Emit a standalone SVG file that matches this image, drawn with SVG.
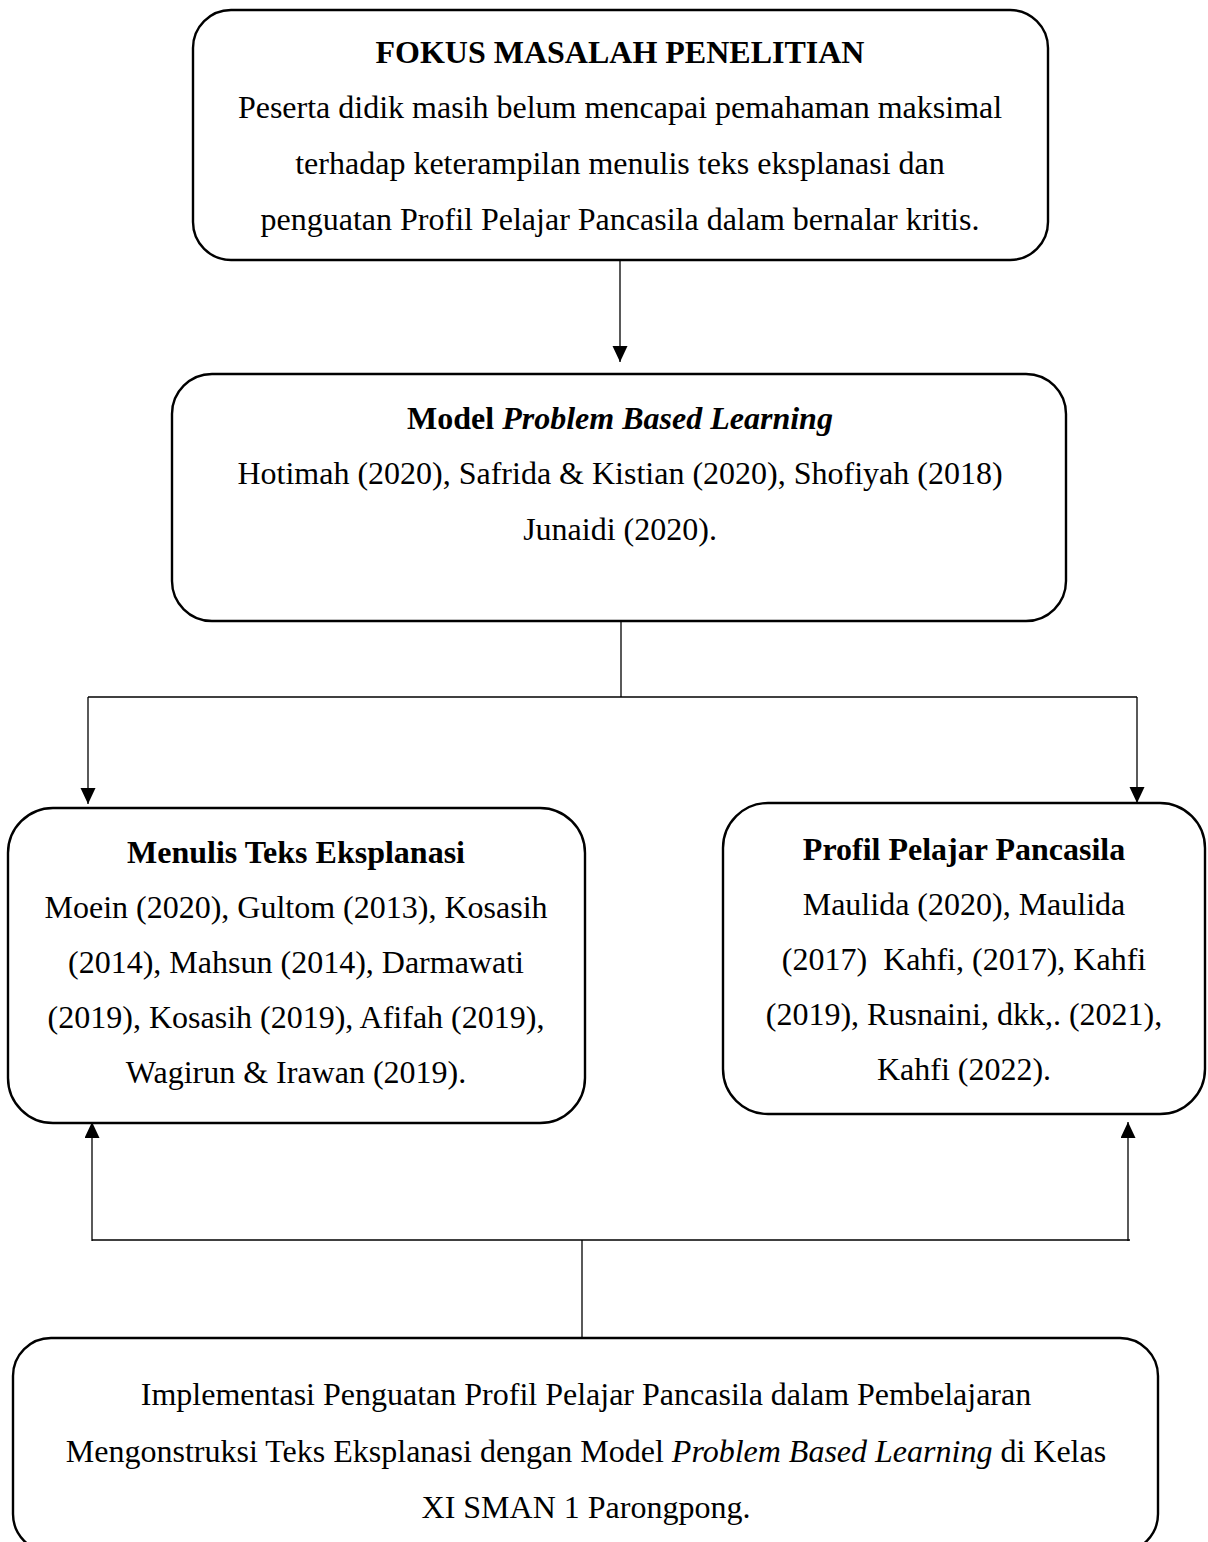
<svg xmlns="http://www.w3.org/2000/svg" width="1208" height="1542" viewBox="0 0 1208 1542">
<style>
.box{fill:#fff;stroke:#000;stroke-width:2.4}
.t{font-family:"Liberation Serif","Times New Roman",serif;font-size:32px;fill:#000;text-anchor:middle}
.b{font-weight:bold}
.i{font-style:italic}
.ln{fill:none;stroke:#000;stroke-width:1.3}
</style>
<defs>
<marker id="ah" markerUnits="userSpaceOnUse" markerWidth="16" markerHeight="16" refX="16" refY="7.5" orient="auto">
<path d="M0,0 L16,7.5 L0,15 z" fill="#000"/>
</marker>
</defs>
<rect width="1208" height="1542" fill="#fff"/>
<g id="connectors">
<path class="ln" d="M620,260 V362" marker-end="url(#ah)"/>
<path class="ln" d="M621,621 V697"/>
<path class="ln" d="M88,697 H1137"/>
<path class="ln" d="M88,697 V804" marker-end="url(#ah)"/>
<path class="ln" d="M1137,697 V803" marker-end="url(#ah)"/>
<path class="ln" d="M92,1241 V1122" marker-end="url(#ah)"/>
<path class="ln" d="M1128,1241 V1122" marker-end="url(#ah)"/>
<path class="ln" d="M92,1240 H1130"/>
<path class="ln" d="M582,1240 V1338"/>
</g>
<g id="fokus">
<rect class="box" x="193" y="10" width="855" height="250" rx="38"/>
<text class="t b" x="620" y="63">FOKUS MASALAH PENELITIAN</text>
<text class="t" x="620" y="118">Peserta didik masih belum mencapai pemahaman maksimal</text>
<text class="t" x="620" y="174">terhadap keterampilan menulis teks eksplanasi dan</text>
<text class="t" x="620" y="230">penguatan Profil Pelajar Pancasila dalam bernalar kritis.</text>
</g>
<g id="pbl">
<rect class="box" x="172" y="374" width="894" height="247" rx="40"/>
<text class="t" x="620" y="429"><tspan class="b">Model </tspan><tspan class="b i">Problem Based Learning</tspan></text>
<text class="t" x="620" y="484">Hotimah (2020), Safrida &amp; Kistian (2020), Shofiyah (2018)</text>
<text class="t" x="620" y="540">Junaidi (2020).</text>
</g>
<g id="menulis">
<rect class="box" x="8" y="808" width="577" height="315" rx="45"/>
<text class="t b" x="296" y="863">Menulis Teks Eksplanasi</text>
<text class="t" x="296" y="918">Moein (2020), Gultom (2013), Kosasih</text>
<text class="t" x="296" y="973">(2014), Mahsun (2014), Darmawati</text>
<text class="t" x="296" y="1028">(2019), Kosasih (2019), Afifah (2019),</text>
<text class="t" x="296" y="1083">Wagirun &amp; Irawan (2019).</text>
</g>
<g id="profil">
<rect class="box" x="723" y="803" width="482" height="311" rx="45"/>
<text class="t b" x="964" y="860">Profil Pelajar Pancasila</text>
<text class="t" x="964" y="915">Maulida (2020), Maulida</text>
<text class="t" x="964" y="970" xml:space="preserve">(2017)  Kahfi, (2017), Kahfi</text>
<text class="t" x="964" y="1025">(2019), Rusnaini, dkk,. (2021),</text>
<text class="t" x="964" y="1080">Kahfi (2022).</text>
</g>
<g id="implementasi">
<rect class="box" x="13" y="1338" width="1145" height="214" rx="38"/>
<text class="t" x="586" y="1405">Implementasi Penguatan Profil Pelajar Pancasila dalam Pembelajaran</text>
<text class="t" x="586" y="1462">Mengonstruksi Teks Eksplanasi dengan Model <tspan class="i">Problem Based Learning</tspan> di Kelas</text>
<text class="t" x="586" y="1518">XI SMAN 1 Parongpong.</text>
</g>
</svg>
